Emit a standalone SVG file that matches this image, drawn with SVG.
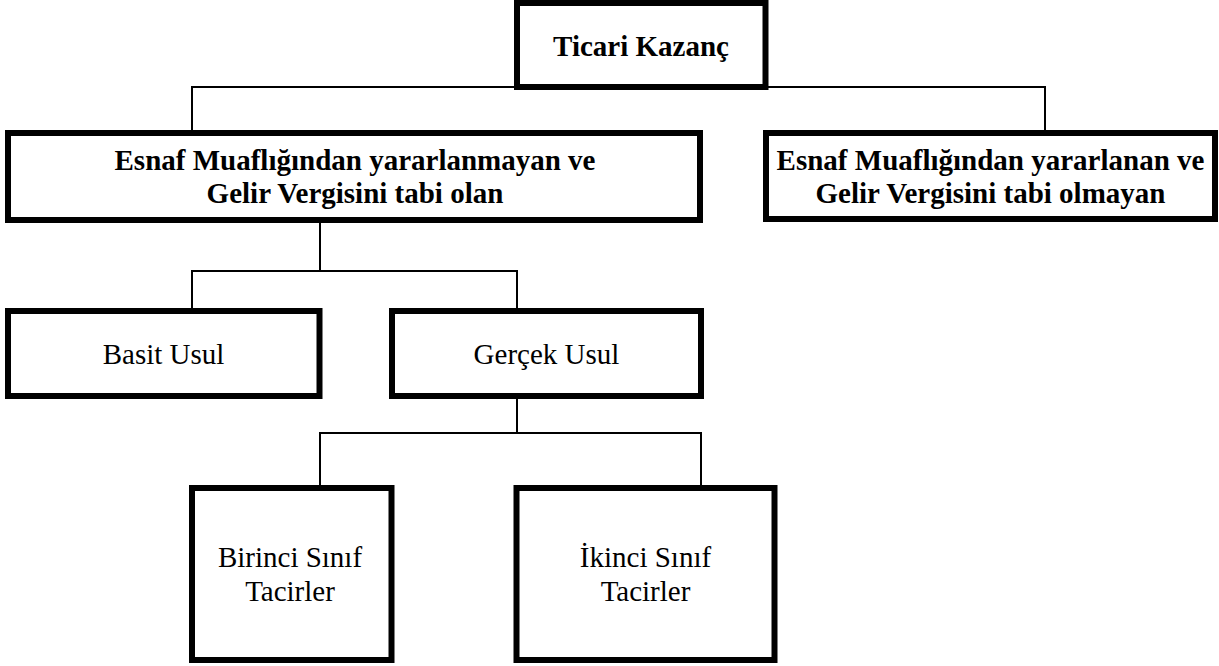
<svg xmlns="http://www.w3.org/2000/svg" width="1219" height="666" viewBox="0 0 1219 666">
<style>
.box{fill:#fff;stroke:#000;stroke-width:6}
.conn{fill:none;stroke:#000;stroke-width:2}
.b{font-family:"Liberation Serif","Times New Roman",serif;font-weight:bold;font-size:29px;fill:#000;text-anchor:middle}
.r{font-family:"Liberation Serif","Times New Roman",serif;font-size:29px;fill:#000;text-anchor:middle}
</style>
<rect width="1219" height="666" fill="#fff"/>
<g id="connectors">
<path class="conn" d="M192,130 V87 H1045 V130"/>
<path class="conn" d="M320,222 V271"/>
<path class="conn" d="M192,308 V271 H517 V308"/>
<path class="conn" d="M517,399 V433"/>
<path class="conn" d="M320,485 V433 H701 V485"/>
</g>
<g id="ticari">
<rect class="box" x="517" y="3" width="248.5" height="84"/>
<text class="b" x="641" y="56">Ticari Kazanç</text>
</g>
<g id="yararlanmayan">
<rect class="box" x="8" y="133" width="692" height="87"/>
<text class="b" x="355" y="170">Esnaf Muaflığından yararlanmayan ve</text>
<text class="b" x="355" y="203">Gelir Vergisini tabi olan</text>
</g>
<g id="yararlanan">
<rect class="box" x="766" y="133" width="449" height="86"/>
<text class="b" x="990.5" y="169.5">Esnaf Muaflığından yararlanan ve</text>
<text class="b" x="990.5" y="202.5">Gelir Vergisini tabi olmayan</text>
</g>
<g id="basit">
<rect class="box" x="8" y="311" width="311.5" height="85"/>
<text class="r" x="163.5" y="363.5">Basit Usul</text>
</g>
<g id="gercek">
<rect class="box" x="392" y="311" width="309" height="85"/>
<text class="r" x="546.5" y="363.5">Gerçek Usul</text>
</g>
<g id="birinci">
<rect class="box" x="192" y="488" width="199.5" height="172"/>
<text class="r" x="290" y="566.5">Birinci Sınıf</text>
<text class="r" x="290" y="600.5">Tacirler</text>
</g>
<g id="ikinci">
<rect class="box" x="516.5" y="488" width="258" height="172"/>
<text class="r" x="645.5" y="566.5">İkinci Sınıf</text>
<text class="r" x="645.5" y="600.5">Tacirler</text>
</g>
</svg>
